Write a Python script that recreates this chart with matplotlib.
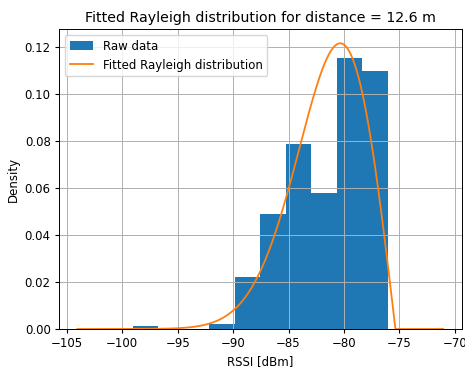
import numpy as np
import matplotlib
matplotlib.use("Agg")
import matplotlib.pyplot as plt

plt.rcParams["font.size"] = 8.5
plt.rcParams["lines.linewidth"] = 1.3
plt.rcParams["axes.linewidth"] = 0.7
plt.rcParams["grid.linewidth"] = 0.7
plt.rcParams["xtick.major.size"] = 3
plt.rcParams["ytick.major.size"] = 3
plt.rcParams["xtick.major.pad"] = 3
plt.rcParams["ytick.major.pad"] = 3
plt.rcParams["axes.labelpad"] = 3.4
plt.rcParams["axes.titlepad"] = 5

# Histogram bins (RSSI, dBm) and density heights
bin_edges = [-99.05, -96.75, -94.45, -92.15, -89.85, -87.55,
             -85.25, -82.95, -80.65, -78.35, -76.05]
density = [0.0011, 0.0, 0.0, 0.0022, 0.0223, 0.0489,
           0.0789, 0.0579, 0.1156, 0.1101]

# Fitted Rayleigh parameters (on negated RSSI)
ray_loc = 75.36
ray_scale = 4.98
distance = 12.6

# Curve evaluated over data range +/- 5 dB
x = np.linspace(bin_edges[0] - 5, bin_edges[-1] + 5, 1000)
r = -x - ray_loc
pdf = np.where(r > 0, r / ray_scale**2 * np.exp(-r**2 / (2 * ray_scale**2)), 0.0)

fig = plt.figure(figsize=(4.65, 3.68), dpi=100)
ax = fig.add_axes([59 / 465, 39 / 368, 402.5 / 465, 300 / 368])

ax.hist(bin_edges[:-1], bins=bin_edges, weights=density, label="Raw data")
ax.plot(x, pdf, color="tab:orange", label="Fitted Rayleigh distribution")

ax.set_title(f"Fitted Rayleigh distribution for distance = {distance} m", fontsize=10.2)
ax.set_xlabel("RSSI [dBm]")
ax.set_ylabel("Density")
ax.grid(True)
ax.legend(loc="upper left")

plt.savefig("out.png")
